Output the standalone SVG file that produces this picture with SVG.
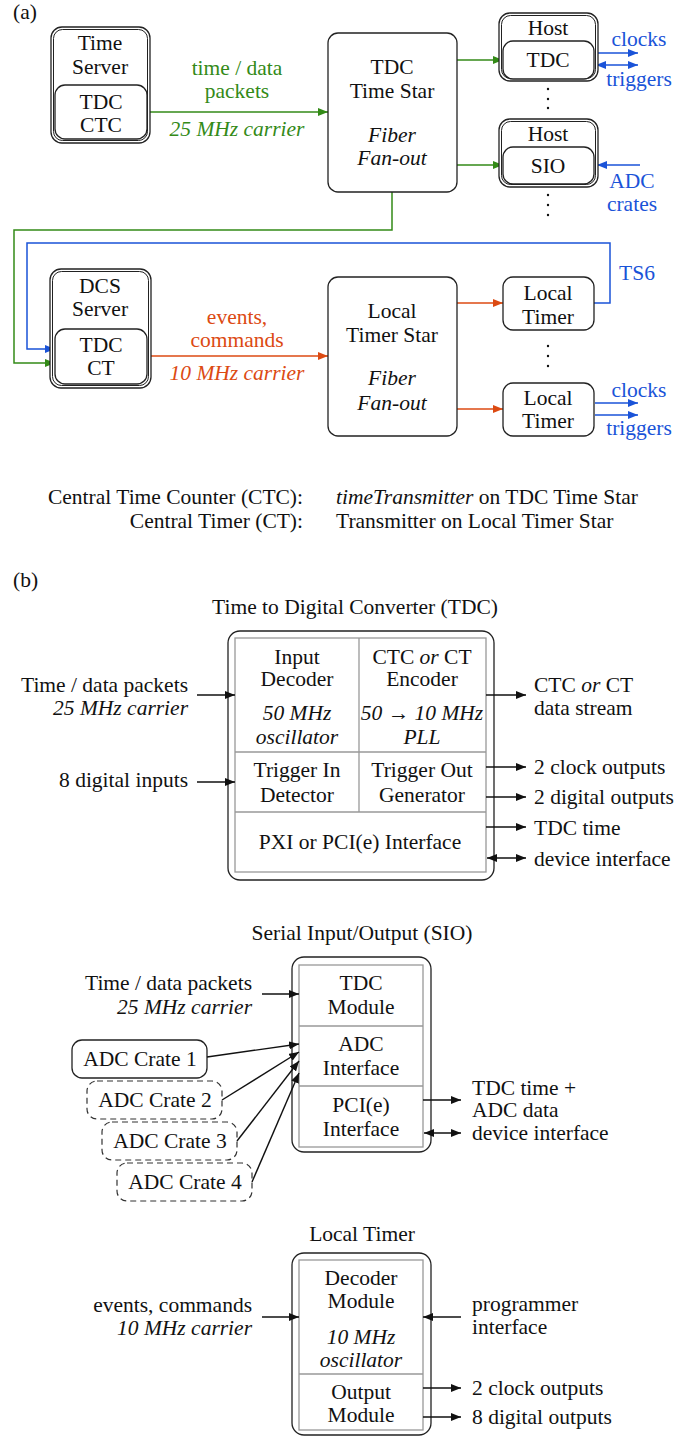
<svg xmlns="http://www.w3.org/2000/svg" width="697" height="1437" viewBox="0 0 697 1437" font-family="'Liberation Serif', 'DejaVu Serif', serif">
  <style>
    text { font-family: 'Liberation Serif', 'DejaVu Serif', serif; font-size: 21.5px; fill: #111; }
    .c { text-anchor: middle; }
    .e { text-anchor: end; }
    .i { font-style: italic; }
    .box { fill: #fff; stroke: #222; stroke-width: 1.3; }
    .dbl { fill: none; stroke: #222; stroke-width: 1; }
    .grid { fill: none; stroke: #999; stroke-width: 1.3; }
    .dash { fill: #fff; stroke: #333; stroke-width: 1.2; stroke-dasharray: 6 4; }
    .k { fill: none; stroke: #111; stroke-width: 1.4; }
    .g { fill: none; stroke: #338a17; stroke-width: 1.5; }
    .o { fill: none; stroke: #dc4a12; stroke-width: 1.5; }
    .b { fill: none; stroke: #1a53d8; stroke-width: 1.5; }
    .tg { fill: #338a17; }
    .to { fill: #dc4a12; }
    .tb { fill: #1a53d8; }
    .dot { fill: #111; }
  </style>
  <defs>
    <marker id="ak" viewBox="0 0 10 8" refX="10" refY="4" markerWidth="10" markerHeight="8" markerUnits="userSpaceOnUse" orient="auto-start-reverse">
      <path d="M0,0 L10,4 L0,8 z" fill="#111"/>
    </marker>
    <marker id="ag" viewBox="0 0 10 8" refX="10" refY="4" markerWidth="10" markerHeight="8" markerUnits="userSpaceOnUse" orient="auto-start-reverse">
      <path d="M0,0 L10,4 L0,8 z" fill="#338a17"/>
    </marker>
    <marker id="ao" viewBox="0 0 10 8" refX="10" refY="4" markerWidth="10" markerHeight="8" markerUnits="userSpaceOnUse" orient="auto-start-reverse">
      <path d="M0,0 L10,4 L0,8 z" fill="#dc4a12"/>
    </marker>
    <marker id="ab" viewBox="0 0 10 8" refX="10" refY="4" markerWidth="10" markerHeight="8" markerUnits="userSpaceOnUse" orient="auto-start-reverse">
      <path d="M0,0 L10,4 L0,8 z" fill="#1a53d8"/>
    </marker>
  </defs>

  <!-- ===== (a) system overview ===== -->
  <text x="13" y="19">(a)</text>

  <g id="connectors-a">
    <!-- green: time/data packets -->
    <line class="g" x1="147" y1="112" x2="328" y2="112" marker-end="url(#ag)"/>
    <line class="g" x1="457" y1="60" x2="503" y2="60" marker-end="url(#ag)"/>
    <line class="g" x1="457" y1="165" x2="503" y2="165" marker-end="url(#ag)"/>
    <polyline class="g" points="392,192 392,230 14,230 14,363 55,363" marker-end="url(#ag)"/>
    <!-- orange: events, commands -->
    <line class="o" x1="147" y1="356" x2="328" y2="356" marker-end="url(#ao)"/>
    <line class="o" x1="457" y1="303" x2="503" y2="303" marker-end="url(#ao)"/>
    <line class="o" x1="457" y1="409" x2="503" y2="409" marker-end="url(#ao)"/>
    <!-- blue: TS6 loop, clocks, triggers, crates -->
    <polyline class="b" points="594,303 610,303 610,243 27,243 27,349 55,349" marker-end="url(#ab)"/>
    <line class="b" x1="595" y1="53" x2="638" y2="53" marker-end="url(#ab)"/>
    <line class="b" x1="596" y1="65" x2="638" y2="65" marker-start="url(#ab)" marker-end="url(#ab)"/>
    <line class="b" x1="640" y1="165" x2="597" y2="165" marker-end="url(#ab)"/>
    <line class="b" x1="595" y1="403" x2="638" y2="403" marker-end="url(#ab)"/>
    <line class="b" x1="595" y1="415" x2="638" y2="415" marker-end="url(#ab)"/>
  </g>

  <text class="c tg" x="237" y="75">time / data</text>
  <text class="c tg" x="237" y="98">packets</text>
  <text class="c tg i" x="237" y="136">25 MHz carrier</text>
  <text class="c to" x="237" y="324">events,</text>
  <text class="c to" x="237" y="347">commands</text>
  <text class="c to i" x="237" y="380">10 MHz carrier</text>
  <text class="c tb" x="639" y="46">clocks</text>
  <text class="c tb" x="639" y="86">triggers</text>
  <text class="c tb" x="632" y="188">ADC</text>
  <text class="c tb" x="632" y="211">crates</text>
  <text class="c tb" x="637" y="280">TS6</text>
  <text class="c tb" x="639" y="397">clocks</text>
  <text class="c tb" x="639" y="435">triggers</text>

  <g id="time-server">
    <rect class="box" x="51" y="27" width="99" height="116" rx="11"/>
    <rect class="dbl" x="53.5" y="29.5" width="94" height="111" rx="9"/>
    <text class="c" x="100" y="50">Time</text>
    <text class="c" x="100" y="74">Server</text>
    <rect class="box" x="55" y="85" width="92" height="54" rx="10"/>
    <text class="c" x="101" y="109">TDC</text>
    <text class="c" x="101" y="132">CTC</text>
  </g>

  <g id="tdc-time-star">
    <rect class="box" x="328" y="33" width="129" height="159" rx="10"/>
    <text class="c" x="392" y="74">TDC</text>
    <text class="c" x="392" y="98">Time Star</text>
    <text class="c i" x="392" y="142">Fiber</text>
    <text class="c i" x="392" y="165">Fan-out</text>
  </g>

  <g id="host-tdc">
    <rect class="box" x="499" y="13" width="99" height="68" rx="11"/>
    <rect class="dbl" x="501.5" y="15.5" width="94" height="63" rx="9"/>
    <text class="c" x="548" y="35">Host</text>
    <rect class="box" x="503" y="41" width="91" height="38" rx="10"/>
    <text class="c" x="548" y="67">TDC</text>
  </g>

  <g id="host-sio">
    <rect class="box" x="499" y="119" width="99" height="68" rx="11"/>
    <rect class="dbl" x="501.5" y="121.5" width="94" height="63" rx="9"/>
    <text class="c" x="548" y="141">Host</text>
    <rect class="box" x="503" y="147" width="91" height="37" rx="10"/>
    <text class="c" x="548" y="173">SIO</text>
  </g>

  <g id="dots-a">
    <circle class="dot" cx="548" cy="89" r="1.2"/>
    <circle class="dot" cx="548" cy="99" r="1.2"/>
    <circle class="dot" cx="548" cy="108" r="1.2"/>
    <circle class="dot" cx="548" cy="195" r="1.2"/>
    <circle class="dot" cx="548" cy="205" r="1.2"/>
    <circle class="dot" cx="548" cy="215" r="1.2"/>
    <circle class="dot" cx="548" cy="346" r="1.2"/>
    <circle class="dot" cx="548" cy="356" r="1.2"/>
    <circle class="dot" cx="548" cy="366" r="1.2"/>
  </g>

  <g id="dcs-server">
    <rect class="box" x="50" y="269" width="101" height="119" rx="11"/>
    <rect class="dbl" x="52.5" y="271.5" width="96" height="114" rx="9"/>
    <text class="c" x="100" y="293">DCS</text>
    <text class="c" x="100" y="316">Server</text>
    <rect class="box" x="55" y="329" width="92" height="55" rx="10"/>
    <text class="c" x="101" y="352">TDC</text>
    <text class="c" x="101" y="375">CT</text>
  </g>

  <g id="local-timer-star">
    <rect class="box" x="328" y="277" width="129" height="159" rx="10"/>
    <text class="c" x="392" y="318">Local</text>
    <text class="c" x="392" y="342">Timer Star</text>
    <text class="c i" x="392" y="385">Fiber</text>
    <text class="c i" x="392" y="410">Fan-out</text>
  </g>

  <g id="local-timer-1">
    <rect class="box" x="503" y="277" width="91" height="53" rx="10"/>
    <text class="c" x="548" y="300">Local</text>
    <text class="c" x="548" y="324">Timer</text>
  </g>

  <g id="local-timer-2">
    <rect class="box" x="503" y="383" width="91" height="53" rx="10"/>
    <text class="c" x="548" y="405">Local</text>
    <text class="c" x="548" y="428">Timer</text>
  </g>

  <g id="legend">
    <text class="e" x="303" y="504">Central Time Counter (CTC):</text>
    <text class="e" x="303" y="528">Central Timer (CT):</text>
    <text x="336" y="504"><tspan class="i">timeTransmitter</tspan> on TDC Time Star</text>
    <text x="336" y="528">Transmitter on Local Timer Star</text>
  </g>

  <!-- ===== (b) module details ===== -->
  <text x="13" y="587">(b)</text>

  <g id="tdc-module">
    <text class="c" x="355" y="614">Time to Digital Converter (TDC)</text>
    <rect class="box" x="228" y="631" width="266" height="249" rx="12"/>
    <rect class="grid" x="235" y="638" width="251" height="234"/>
    <line class="grid" x1="359" y1="638" x2="359" y2="812"/>
    <line class="grid" x1="235" y1="752" x2="486" y2="752"/>
    <line class="grid" x1="235" y1="812" x2="486" y2="812"/>
    <text class="c" x="297" y="664">Input</text>
    <text class="c" x="297" y="686">Decoder</text>
    <text class="c i" x="297" y="720">50 MHz</text>
    <text class="c i" x="297" y="744">oscillator</text>
    <text class="c" x="422" y="664">CTC <tspan class="i">or</tspan> CT</text>
    <text class="c" x="422" y="686">Encoder</text>
    <text class="c" x="422" y="720"><tspan class="i">50</tspan> → <tspan class="i">10 MHz</tspan></text>
    <text class="c i" x="422" y="744">PLL</text>
    <text class="c" x="297" y="777">Trigger In</text>
    <text class="c" x="297" y="802">Detector</text>
    <text class="c" x="422" y="777">Trigger Out</text>
    <text class="c" x="422" y="802">Generator</text>
    <text class="c" x="360" y="849">PXI or PCI(e) Interface</text>
  </g>

  <g id="tdc-io">
    <line class="k" x1="197" y1="695" x2="235" y2="695" marker-end="url(#ak)"/>
    <line class="k" x1="197" y1="782" x2="235" y2="782" marker-end="url(#ak)"/>
    <line class="k" x1="486" y1="695" x2="526" y2="695" marker-end="url(#ak)"/>
    <line class="k" x1="486" y1="767" x2="526" y2="767" marker-end="url(#ak)"/>
    <line class="k" x1="486" y1="797" x2="526" y2="797" marker-end="url(#ak)"/>
    <line class="k" x1="486" y1="827" x2="526" y2="827" marker-end="url(#ak)"/>
    <line class="k" x1="487" y1="858" x2="526" y2="858" marker-start="url(#ak)" marker-end="url(#ak)"/>
  </g>
  <text class="e" x="188" y="692">Time / data packets</text>
  <text class="e i" x="188" y="715">25 MHz carrier</text>
  <text class="e" x="188" y="787">8 digital inputs</text>
  <text x="534" y="692">CTC <tspan class="i">or</tspan> CT</text>
  <text x="534" y="715">data stream</text>
  <text x="534" y="774">2 clock outputs</text>
  <text x="534" y="804">2 digital outputs</text>
  <text x="534" y="835">TDC time</text>
  <text x="534" y="866">device interface</text>

  <g id="sio-module">
    <text class="c" x="362" y="940">Serial Input/Output (SIO)</text>
    <rect class="box" x="292" y="957" width="139" height="195" rx="12"/>
    <rect class="grid" x="299" y="965" width="124" height="182"/>
    <line class="grid" x1="299" y1="1026" x2="423" y2="1026"/>
    <line class="grid" x1="299" y1="1086" x2="423" y2="1086"/>
    <text class="c" x="361" y="990">TDC</text>
    <text class="c" x="361" y="1014">Module</text>
    <text class="c" x="361" y="1051">ADC</text>
    <text class="c" x="361" y="1075">Interface</text>
    <text class="c" x="361" y="1112">PCI(e)</text>
    <text class="c" x="361" y="1136">Interface</text>
  </g>

  <g id="adc-crate-1">
    <rect class="box" x="72" y="1040" width="135" height="38" rx="10"/>
    <text class="c" x="140" y="1066">ADC Crate 1</text>
  </g>
  <g id="adc-crate-2">
    <rect class="dash" x="87" y="1081" width="135" height="38" rx="10"/>
    <text class="c" x="155" y="1107">ADC Crate 2</text>
  </g>
  <g id="adc-crate-3">
    <rect class="dash" x="102" y="1122" width="135" height="38" rx="10"/>
    <text class="c" x="170" y="1148">ADC Crate 3</text>
  </g>
  <g id="adc-crate-4">
    <rect class="dash" x="117" y="1163" width="135" height="38" rx="10"/>
    <text class="c" x="185" y="1189">ADC Crate 4</text>
  </g>

  <g id="sio-io">
    <line class="k" x1="262" y1="994" x2="299" y2="994" marker-end="url(#ak)"/>
    <line class="k" x1="207" y1="1057" x2="299" y2="1044" marker-end="url(#ak)"/>
    <line class="k" x1="222" y1="1100" x2="299" y2="1052" marker-end="url(#ak)"/>
    <line class="k" x1="237" y1="1141" x2="299" y2="1061" marker-end="url(#ak)"/>
    <line class="k" x1="252" y1="1182" x2="299" y2="1073" marker-end="url(#ak)"/>
    <line class="k" x1="423" y1="1100" x2="461" y2="1100" marker-end="url(#ak)"/>
    <line class="k" x1="424" y1="1133" x2="461" y2="1133" marker-start="url(#ak)" marker-end="url(#ak)"/>
  </g>
  <text class="e" x="252" y="990">Time / data packets</text>
  <text class="e i" x="252" y="1014">25 MHz carrier</text>
  <text x="472" y="1095">TDC time +</text>
  <text x="472" y="1117">ADC data</text>
  <text x="472" y="1140">device interface</text>

  <g id="local-timer-module">
    <text class="c" x="362" y="1241">Local Timer</text>
    <rect class="box" x="292" y="1253" width="139" height="182" rx="12"/>
    <rect class="grid" x="299" y="1260" width="124" height="170"/>
    <line class="grid" x1="299" y1="1374" x2="423" y2="1374"/>
    <text class="c" x="361" y="1285">Decoder</text>
    <text class="c" x="361" y="1308">Module</text>
    <text class="c i" x="361" y="1344">10 MHz</text>
    <text class="c i" x="361" y="1367">oscillator</text>
    <text class="c" x="361" y="1399">Output</text>
    <text class="c" x="361" y="1422">Module</text>
  </g>

  <g id="local-timer-io">
    <line class="k" x1="262" y1="1317" x2="299" y2="1317" marker-end="url(#ak)"/>
    <line class="k" x1="461" y1="1317" x2="423" y2="1317" marker-end="url(#ak)"/>
    <line class="k" x1="423" y1="1388" x2="461" y2="1388" marker-end="url(#ak)"/>
    <line class="k" x1="423" y1="1417" x2="461" y2="1417" marker-end="url(#ak)"/>
  </g>
  <text class="e" x="252" y="1312">events, commands</text>
  <text class="e i" x="252" y="1335">10 MHz carrier</text>
  <text x="472" y="1311">programmer</text>
  <text x="472" y="1334">interface</text>
  <text x="472" y="1395">2 clock outputs</text>
  <text x="472" y="1424">8 digital outputs</text>
</svg>
